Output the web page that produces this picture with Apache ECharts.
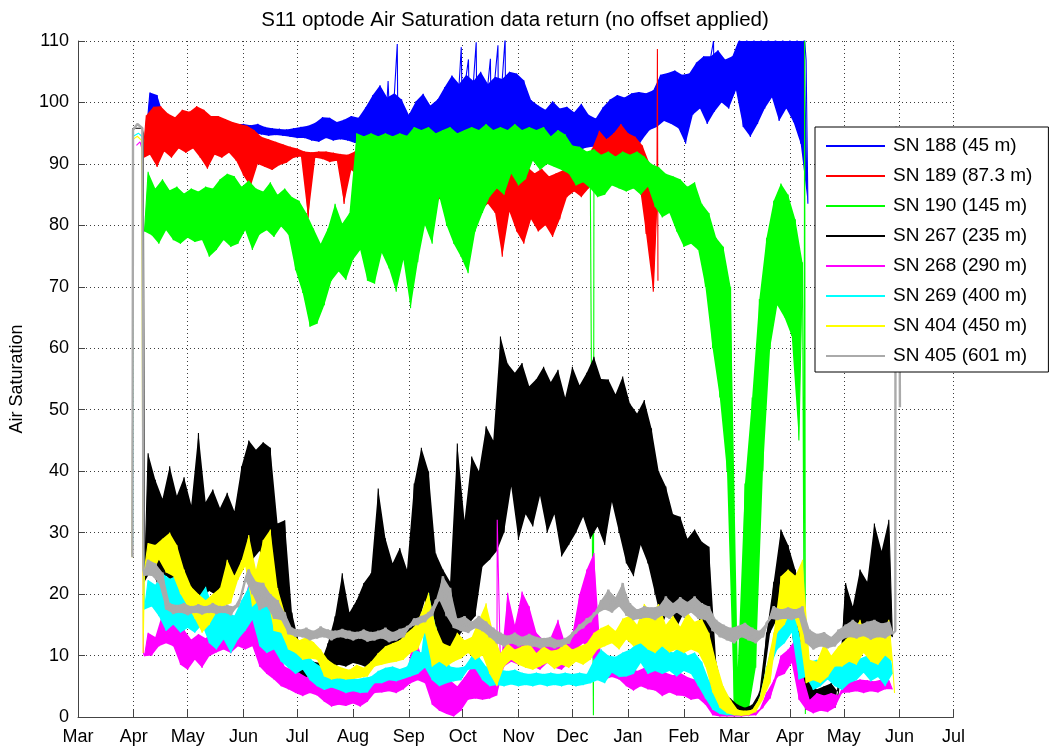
<!DOCTYPE html>
<html>
<head>
<meta charset="utf-8">
<title>S11 optode Air Saturation</title>
<script src="https://cdn.jsdelivr.net/npm/echarts@6/dist/echarts.min.js"></script>
<style>
  html, body { margin: 0; padding: 0; background: #ffffff; }
  #chart { width: 1050px; height: 752px; }
</style>
</head>
<body>
<div id="chart"></div>
<script>
// Month tick labels along the time axis
const monthLabels = ['Jan', 'Feb', 'Mar', 'Apr', 'May', 'Jun', 'Jul', 'Aug', 'Sep', 'Oct', 'Nov', 'Dec'];

// Record window: 1 Mar 2010 .. 1 Jul 2011, values given as days since 1 Mar 2010
const originDate = Date.UTC(2010, 2, 1);
const endDate = Date.UTC(2011, 6, 1);
const DAY_MS = 86400000;

// Series names (sensor serial and depth) and plot colours
const seriesNames = ['SN 188 (45 m)', 'SN 189 (87.3 m)', 'SN 190 (145 m)', 'SN 267 (235 m)',
                     'SN 268 (290 m)', 'SN 269 (400 m)', 'SN 404 (450 m)', 'SN 405 (601 m)'];
const seriesColors = ['#0000ff', '#ff0000', '#00ff00', '#000000', '#ff00ff', '#00ffff', '#ffff00', '#aaaaaa'];

// Each record: first sample day, then readings every 2 days that alternate
// between the low and the high edge of the noisy signal.
// Extra [day, value] points hold deck readings, isolated spikes and recovery.

// SN 188 (45 m)
const sn188Start = 38;
const sn188 = [
  95, 101.6, 95.5, 101.2, 95, 97.5, 95.2, 97.2, 95.4, 97.8, 95, 97.5, 95.3, 97.2, 95, 97,
  95.2, 96.8, 95, 97, 94.8, 96.6, 95, 96.8, 94.8, 96.5, 95, 96.5, 95.3, 96.3, 95, 96.5,
  94.8, 96, 94.6, 95.8, 94.7, 95.7, 94.6, 95.6, 94.4, 95.8, 94.2, 96, 94.2, 96.2, 93.8, 96.7,
  93.6, 97.6, 94.2, 97.5, 93.8, 96.8, 94, 97.2, 93.8, 97.8, 93.4, 97.5, 93.5, 99.2, 93.3, 101.2,
  93, 102.8, 92.5, 100.8, 92, 101.5, 91.7, 100.5, 92.5, 98, 93.5, 100.2, 93.3, 101.4, 93.6, 99.5,
  93, 100.5, 93.3, 102.5, 92.8, 104.4, 92.5, 103, 91.5, 104.5, 92, 103.5, 91, 105, 92, 103,
  91.5, 104.2, 91, 103.8, 90.5, 105, 92, 104.7, 93.5, 103.6, 93.8, 100.4, 93.3, 99.5, 93, 98.8,
  92.8, 100.2, 92.5, 99, 92.3, 99.3, 92.2, 98.4, 92, 99.8, 92.6, 98, 92.8, 97.4, 93.3, 99.2,
  94, 100.5, 94.5, 101.2, 95, 100.8, 93.5, 101.5, 92, 101.7, 94, 101.5, 95.5, 102, 96, 104.5,
  97, 104.8, 96.5, 105.2, 95.8, 104.5, 93.3, 104.7, 98, 106.5, 99, 107.5, 96.5, 107.5, 98.5, 108.5,
  100, 107, 99, 107.5, 102, 110.5, 96, 111, 94.4, 111, 96.5, 111, 99, 111, 100.8, 111,
  97, 111, 99, 111, 96.8, 111, 93.3, 111, 83.5
];
const sn188Extra = [[172.5, 103.5], [177.6, 109.5], [213.2, 109], [217.2, 107], [221.5, 109.8],
                    [229.4, 107.1], [233.6, 109.3], [237.6, 110.5], [353.5, 110], [405, 106.9]];

// SN 189 (87.3 m)
const sn189Start = 36;
const sn189 = [
  90.9, 97.9, 91.5, 99.3, 89.5, 99.4, 92, 98.2, 91, 97.6, 92.5, 98.8, 91.8, 98.5, 92.5, 99.4,
  91, 98.8, 89.2, 97.8, 91.5, 97.8, 91, 97.3, 91.8, 96.8, 90.5, 96.5, 88.1, 96.2, 86.3, 95.5,
  90, 94.4, 89.5, 94, 89, 93.6, 89.8, 93.2, 90.2, 92.8, 91, 92.5, 91.2, 92, 81.2, 91.9,
  91, 92, 90.8, 92, 90.3, 91.8, 90.5, 91.6, 83.5, 91.5, 89, 92, 88, 91.5, 87.5, 91,
  88.5, 91.5, 87, 91, 86.3, 90, 84, 90.5, 82, 89.5, 73, 89, 85, 90, 84.6, 90,
  78.6, 89, 84, 89.5, 85, 90, 84.6, 89.8, 84, 90.5, 85, 90, 83, 90.5, 82.4, 89.5,
  83.5, 90, 82, 89, 74.9, 90.5, 82.2, 89.5, 79, 90, 77, 89.5, 81, 88.5, 79, 89.2,
  80, 88, 78.1, 88.5, 81, 89, 84.6, 88.5, 85.5, 89.5, 84.6, 90, 86, 92.5, 89, 95.4,
  89.5, 94, 90, 95, 91, 96.5, 91.7, 95, 89, 94.4, 87.3, 93, 78.6, 90, 69.2, 83.5
];
const sn189Extra = [[322.3, 108.7], [322.6, 71]];

// SN 190 (145 m)
const sn190Start = 37;
const sn190 = [
  79, 88.7, 78.4, 86, 77, 87.5, 79.2, 85.7, 77.6, 86.3, 77, 85.2, 78, 86, 77.3, 85.5,
  77.6, 86.3, 74.9, 86, 76, 87.5, 77.6, 88.4, 76.5, 88, 77, 86.3, 79.2, 87.3, 76, 86,
  78.5, 85.5, 79.2, 87, 78.1, 85, 79.8, 86, 78.5, 84.6, 72.7, 84, 69, 82, 63.5, 79.5,
  64, 77, 67, 79.5, 71, 83.5, 72.5, 80.3, 71.1, 82, 74.4, 95, 76, 94.5, 71, 95,
  70.5, 94.5, 75.5, 95, 73, 94.5, 69.2, 95, 74.4, 94.6, 66.5, 96, 74, 95.5, 80, 96,
  77, 95, 84.6, 95.5, 80, 96, 77, 95, 74.9, 95.5, 72.2, 96, 79, 95.5, 82, 96.5,
  84.6, 95.5, 86, 96, 85, 95.5, 88.4, 96.5, 86.5, 95.5, 87.5, 96, 90.5, 95.5, 89, 96,
  90, 94.5, 89.5, 95.5, 89, 94.8, 88.4, 93, 86.5, 92.8, 87, 92, 86, 92.4, 84.6, 91.5,
  85, 92, 86.5, 91.2, 86, 92, 85.5, 91.5, 86, 92, 85, 91.2, 86.3, 90, 83, 89.5,
  81.3, 88.4, 82, 88, 79, 87.5, 76.5, 86.3, 77, 87, 76, 83.5, 70, 82, 60, 78,
  52, 76.5, 40, 70, 1, 8, 0.3, 38, 1, 52, 8, 68, 40, 78, 60, 84,
  67, 86.8, 65, 85, 62, 81, 45, 74
];
const sn190Extra = [[286.7, 0.3], [403.8, 19], [404.2, 110], [404.6, 0.5]];

// SN 267 (235 m)
const sn267Start = 37;
const sn267 = [
  22, 42.9, 24, 38.6, 21, 35.5, 23, 40.8, 22, 36, 21.5, 39, 20.5, 34.5, 20, 46.2,
  19.5, 35, 20.5, 37, 19.8, 34, 20.2, 36.5, 19.5, 33.5, 24, 40.8, 26, 45, 25.6, 43.5,
  27, 44.7, 25, 43.8, 18, 31.5, 16.4, 32, 13.7, 17, 6.5, 12, 5.5, 9.5, 5, 9,
  5.5, 8.8, 5.3, 12, 8, 16.4, 8.5, 23.4, 8.2, 17, 8.8, 19, 8.5, 21.8, 8, 23.4,
  9, 37.2, 10, 29.1, 11, 25, 9.5, 27.5, 12, 24, 13.7, 38, 15, 43.8, 19, 40,
  11, 26.6, 8.8, 24, 9, 22, 11, 44.5, 13.7, 32, 15, 42.4, 16.4, 40, 24.5, 47.3,
  25.6, 45, 27, 61.9, 30, 57.5, 37.5, 56, 28.8, 57.6, 33, 53.8, 31, 55, 36, 57,
  30, 54.5, 33, 56.5, 26.1, 52, 28, 57, 30, 54, 32.6, 56, 29, 58.6, 31, 55,
  28, 54.9, 35, 52.5, 30, 55.4, 25, 51, 22.9, 49.4, 28, 51.6, 25, 47, 20, 40,
  15, 37.5, 18, 33, 14.5, 32.6, 17, 29, 18.5, 30.5, 16.4, 28.5, 11, 27.7, 3, 9,
  1, 4, 0.5, 3, 0.4, 2, 0.3, 1.5, 0.5, 2, 1, 4, 5, 13.7, 13.7, 22,
  16, 30.5, 19, 28, 14, 24, 5, 20, 1.2, 5.5, 1.5, 4.5, 1.2, 5, 2, 5.5,
  1.5, 4, 11, 21.8, 13, 18, 12, 24, 14.7, 22, 13, 31.5, 12, 27, 14, 32.1,
  13
];
const sn267Extra = [[30.2, 26.1], [30.6, 95.8], [35.6, 95.8], [36.3, 95]];

// SN 268 (290 m)
const sn268Start = 37;
const sn268 = [
  9.9, 13.7, 10, 13, 11.5, 16.9, 12, 15.8, 11.5, 16.5, 8.5, 14.2, 7.7, 12.6, 9.3, 13.5,
  8, 12.8, 9.9, 14, 10.5, 13.7, 11, 15, 10.4, 15.8, 11.5, 17, 11, 21.8, 11.5, 19,
  8.2, 13.7, 7, 12, 6.1, 11, 5, 8.2, 4.5, 7.7, 3.9, 7.2, 3.4, 6.5, 3.9, 7,
  3.5, 6, 2.5, 5.5, 1.7, 5, 2, 5.5, 1.8, 4.8, 2.2, 5.2, 1.7, 5, 2.5, 5.5,
  3.9, 7.2, 4, 6.8, 4.2, 7, 3.9, 7.2, 4.5, 7, 5.5, 13.7, 6, 9.9, 5.5, 9,
  2, 8.2, 1, 7, 0.5, 6, 0.1, 5, 1, 6.5, 2.8, 8.2, 3, 7.5, 2.8, 8,
  3, 7, 3.5, 8, 8.2, 20.2, 9, 15, 8.5, 20.4, 9, 18, 8.2, 13.7, 7.7, 12.5,
  8.8, 13, 8, 15.8, 7.7, 12, 8.8, 13.5, 11, 20, 12, 24, 11, 26.7, 7, 9.3,
  6.1, 9, 6.5, 8.5, 6.1, 9.3, 5, 8.2, 4.3, 7.5, 5, 8, 4.5, 7.8, 4.3, 8.2,
  3.4, 7.2, 4, 6.8, 3.5, 7.2, 3.4, 6.5, 2.8, 6.1, 3, 5.5, 2, 4.5, 0.3, 1.5,
  0.1, 1, 0.1, 0.8, 0.1, 0.6, 0.1, 0.7, 0.2, 0.8, 0.3, 1.2, 1.5, 4, 3, 6,
  6.5, 10, 7, 11, 8.8, 12.6, 2.8, 7, 1.2, 2.8, 0.6, 3.9, 1, 3.5, 0.8, 3.9,
  1.5, 3.5, 3.9, 6.1, 4, 5.8, 4.2, 6.1, 3.9, 6, 4.2, 5.8, 4, 6.1, 4.5, 6,
  4.5
];
const sn268Extra = [[32.5, 93], [34.5, 93.6], [35.8, 92.2], [36.4, 10.4], [233.2, 32.1]];

// SN 269 (400 m)
const sn269Start = 37;
const sn269 = [
  17.5, 22.3, 18, 21.5, 16.4, 23.4, 14, 22.5, 15, 23, 13.7, 21, 14.5, 20, 13.7, 19.5,
  15, 21.2, 12, 18, 11, 19, 12.6, 17, 10.4, 16.5, 12.6, 19, 14, 21.2, 15.8, 20,
  11.5, 19, 10.4, 17.5, 11, 15.8, 9, 14, 8, 12, 7, 10.5, 7.7, 10.4, 6, 9,
  5, 8.2, 4.4, 7.5, 4.8, 8, 4.4, 7, 3.9, 6.6, 4.2, 6.2, 3.9, 6.4, 4, 6.6,
  5.5, 7.5, 5.5, 8, 6, 8.2, 5.8, 7.8, 6.2, 8.2, 6.6, 11, 7, 10.5, 8, 20.2,
  6, 14.7, 5, 11, 5.5, 8.2, 5.8, 8, 6, 8.2, 7.7, 9.9, 7.8, 9.8, 6, 8.2,
  5, 8, 5.2, 7.7, 5, 7.5, 5.3, 7.7, 5, 7.2, 5.2, 7, 5, 7.2, 5.3, 7,
  5, 7.2, 5.2, 7, 5, 7.2, 5.3, 7, 5, 7.2, 5.2, 7, 5.5, 9.3, 6, 11,
  5.5, 10, 7.2, 9.8, 6.5, 10.5, 6.6, 11, 7, 12, 8.8, 12.6, 7, 11.5, 7.5, 12.2,
  7, 11, 7.5, 10.5, 6.6, 11.5, 7.5, 10, 7, 10.5, 5, 9, 3, 6, 1.2, 3,
  0.5, 1.5, 0.3, 1, 0.3, 0.8, 0.3, 0.9, 0.4, 1, 1, 3, 4, 8.2, 8, 13,
  11, 15, 12, 17.5, 13.7, 16.5, 6.1, 11, 6.5, 9, 4.4, 9.3, 5, 8, 6.1, 9,
  5, 8.5, 4.4, 10.4, 5.5, 9, 6, 9.5, 7.2, 10, 5.8, 9.2, 6.5, 10.4, 5, 12,
  7
];
const sn269Extra = [[30.4, 28], [30.8, 94.5], [33.6, 95], [35.8, 94.4], [36.4, 28]];

// SN 404 (450 m)
const sn404Start = 37;
const sn404 = [
  24, 28.3, 23, 28, 25.6, 29, 23.5, 30, 22.9, 28, 20, 24, 18, 21.2, 16, 20,
  13.7, 19, 15, 20, 17, 21, 18, 25.6, 18.5, 23, 22.3, 25.5, 24.5, 29.6, 18, 24,
  19, 28.8, 20, 30.5, 14, 21, 13.7, 17, 11, 13.7, 10.4, 12.5, 9.3, 13, 9.5, 12.2,
  9.3, 11, 6.6, 9.3, 6.1, 8.5, 6.3, 8, 6.1, 7.7, 6.2, 8.5, 6.4, 8, 6.6, 9,
  8.2, 10.4, 8.5, 11.5, 8.8, 12, 9, 12.5, 9.3, 13.7, 10.4, 14.7, 11, 17, 13.7, 20.2,
  8.2, 14.7, 9, 12, 8.2, 11.5, 9, 13.7, 9.5, 12.5, 10.4, 13, 9.3, 15.8, 10, 18.5,
  7, 13.7, 5, 10.4, 8.2, 12, 9.3, 11, 8.5, 11.5, 8, 12, 7.7, 10.4, 8.2, 11.5,
  8.8, 10.8, 7.8, 11, 8.5, 12, 8, 11, 9, 11.5, 8.5, 12, 9.3, 13.7, 11, 14.5,
  11.5, 15, 12, 14, 11, 16, 12.6, 16.5, 11.5, 15, 12, 18.4, 11, 17, 10.4, 18.4,
  11.5, 15, 10.5, 16.5, 11, 14.7, 10.4, 17, 11, 15.5, 10.5, 16, 8.2, 13.7, 4, 9,
  1.5, 5, 0.6, 2.8, 0.3, 1.2, 0.2, 1, 0.3, 1.2, 0.8, 3, 2.8, 8.2, 5.5, 13.7,
  13.7, 22.9, 15, 24, 17.5, 23, 14, 25.6, 5.5, 9.3, 6, 9, 5.5, 12, 6.5, 10,
  8.2, 11.5, 8.2, 12.6, 9, 14, 8.5, 15.8, 10.4, 13, 9, 15, 8.5, 14, 10, 15.8,
  9
];
const sn404Extra = [[30.2, 26], [30.6, 94], [33, 94.5], [35.5, 93.8], [36.2, 10.4], [454.2, 3.9]];

// SN 405 (601 m)
const sn405Start = 37;
const sn405 = [
  23, 25.6, 23, 25, 21.8, 23.5, 17.5, 18.5, 16.8, 18.2, 17, 18.5, 16.6, 18, 17, 18.3,
  16.7, 18, 17, 18.5, 16.8, 18, 17, 18.2, 16.6, 18, 18, 20, 22.3, 24, 20, 22,
  17.4, 21.8, 18, 20, 16, 19, 15.8, 17, 13.5, 14.5, 13.1, 14.2, 13, 14.5, 12.5, 14,
  12.8, 14.7, 13, 14.2, 12.5, 14, 13, 14.3, 12.8, 14, 12.5, 13.8, 12.8, 14.2, 12.3, 13.8,
  12.5, 14, 12.8, 14.5, 12.2, 13.8, 12.5, 14.3, 13, 14.7, 14.7, 16, 15, 16.4, 15.5, 17,
  16.5, 19, 19, 22.9, 16.4, 21, 14.5, 16, 14, 16.4, 13.7, 15.5, 14.5, 16.4, 14, 15.5,
  13, 14.5, 12, 13.7, 11.5, 13.2, 12, 13.7, 11.5, 13, 11.7, 13.5, 11.5, 13, 11.2, 12.8,
  11.5, 13, 11.2, 12.5, 11.5, 12.8, 12, 13.7, 13.7, 15, 14.5, 16, 15.5, 16.9, 16.9, 19,
  17.5, 20.7, 17, 19.5, 18, 21.8, 16.5, 18.5, 15.8, 17.5, 16, 18, 16.2, 17.8, 15.8, 18,
  16.5, 19.6, 16, 18.5, 17, 19.5, 16.2, 18.7, 17, 19.6, 16, 18.5, 15.8, 18, 14, 15.8,
  13, 15, 12.5, 14.5, 12, 14.8, 13, 15.3, 12.5, 14.5, 12, 14, 13, 15.3, 16, 18,
  15.8, 17.5, 16, 17.8, 15.8, 17.5, 16.2, 18, 12, 14.2, 11, 13.5, 11.5, 13.8, 11.2, 13,
  11.5, 14.2, 12.6, 15, 13, 15.8, 12.8, 15, 13.2, 15.5, 12.6, 15.8, 13, 15.2, 12.8, 15.5,
  13.5
];
const sn405Extra = [[30.3, 26], [30.6, 95.5], [33, 96.5], [35.8, 95.8], [36.4, 24],
                    [454.6, 14], [454.8, 96], [456.6, 95.5], [457.2, 50.4]];

const seriesStarts = [sn188Start, sn189Start, sn190Start, sn267Start, sn268Start, sn269Start, sn404Start, sn405Start];
const seriesValues = [sn188, sn189, sn190, sn267, sn268, sn269, sn404, sn405];
const seriesExtras = [sn188Extra, sn189Extra, sn190Extra, sn267Extra, sn268Extra, sn269Extra, sn404Extra, sn405Extra];

const dayToTime = d => originDate + d * DAY_MS;

// Turn a record into [time, value] pairs ordered by time
function buildPoints(start, vals, extra) {
  const pts = vals.map((v, i) => [start + 2 * i, v]);
  extra.forEach(p => pts.push(p));
  pts.sort((a, b) => a[0] - b[0]);
  return pts.map(p => [dayToTime(p[0]), p[1]]);
}

// Filled envelope between the low and high readings of one record
function bandRenderer(start, vals, color) {
  return function (params, api) {
    const upper = [];
    const lower = [];
    vals.forEach((v, i) => {
      const p = api.coord([dayToTime(start + 2 * i), v]);
      if (i % 2) upper.push(p); else lower.push(p);
    });
    return {
      type: 'polygon',
      shape: { points: upper.concat(lower.reverse()) },
      style: { fill: color, stroke: null }
    };
  };
}

const FONT = "'Liberation Sans', Arial, Helvetica, sans-serif";
const gridDots = { color: '#3c3c3c', width: 1, type: [1, 3] };

// Records are layered in order: later sensors sit on top of earlier ones
const series = [];
seriesNames.forEach((name, k) => {
  series.push({
    name: name,
    type: 'custom',
    z: 2 + 2 * k,
    data: [[dayToTime(seriesStarts[k]), 0]],
    encode: { x: 0, y: 1 },
    clip: true,
    silent: true,
    animation: false,
    color: seriesColors[k],
    renderItem: bandRenderer(seriesStarts[k], seriesValues[k], seriesColors[k])
  });
  series.push({
    name: name,
    type: 'line',
    z: 3 + 2 * k,
    data: buildPoints(seriesStarts[k], seriesValues[k], seriesExtras[k]),
    showSymbol: false,
    symbol: 'none',
    clip: true,
    animation: false,
    color: seriesColors[k],
    lineStyle: { color: seriesColors[k], width: k === 7 ? 2.4 : 1.1 },
    emphasis: { disabled: true }
  });
});

const chart = echarts.init(document.getElementById('chart'), null, { renderer: 'canvas' });
chart.setOption({
  useUTC: true,
  animation: false,
  backgroundColor: '#ffffff',
  textStyle: { fontFamily: FONT },
  title: {
    text: 'S11 optode Air Saturation data return (no offset applied)',
    left: 510,
    top: 5,
    textAlign: 'center',
    textStyle: { fontFamily: FONT, fontSize: 20.5, fontWeight: 'normal', color: '#000' }
  },
  grid: { left: 78, right: 96.5, top: 41, bottom: 35, containLabel: false },
  legend: {
    orient: 'vertical',
    z: 60,
    left: 815,
    top: 127,
    padding: [9, 16, 6, 11],
    itemGap: 10,
    itemWidth: 59,
    itemHeight: 2,
    backgroundColor: '#ffffff',
    borderColor: '#000000',
    borderWidth: 1,
    borderRadius: 0,
    selectedMode: false,
    data: seriesNames.map((n, k) => ({ name: n, icon: 'rect', itemStyle: { color: seriesColors[k] } })),
    textStyle: { fontFamily: FONT, fontSize: 19, color: '#000', lineHeight: 20, padding: [0, 0, 0, 3] }
  },
  xAxis: {
    type: 'time',
    min: originDate,
    max: endDate,
    splitNumber: 16,
    minInterval: 28 * DAY_MS,
    maxInterval: 31 * DAY_MS,
    axisLine: { show: true, lineStyle: { color: '#444', width: 1 } },
    axisTick: { show: true, inside: true, length: 7, lineStyle: { color: '#444' } },
    minorTick: { show: false },
    splitLine: { show: true, lineStyle: gridDots },
    axisLabel: {
      fontFamily: FONT,
      fontSize: 18,
      color: '#000',
      margin: 11,
      hideOverlap: false,
      showMinLabel: true,
      showMaxLabel: true,
      formatter: function (val) { return monthLabels[new Date(val).getUTCMonth()]; }
    }
  },
  yAxis: {
    type: 'value',
    min: 0,
    max: 110,
    interval: 10,
    name: 'Air Saturation',
    nameLocation: 'middle',
    nameGap: 52,
    nameTextStyle: { fontFamily: FONT, fontSize: 18, color: '#000' },
    axisLine: { show: true, lineStyle: { color: '#444', width: 1 } },
    axisTick: { show: true, inside: true, length: 7, lineStyle: { color: '#444' } },
    splitLine: { show: true, lineStyle: gridDots },
    axisLabel: { fontFamily: FONT, fontSize: 18, color: '#000', margin: 9 }
  },
  series: series
});
</script>
</body>
</html>
